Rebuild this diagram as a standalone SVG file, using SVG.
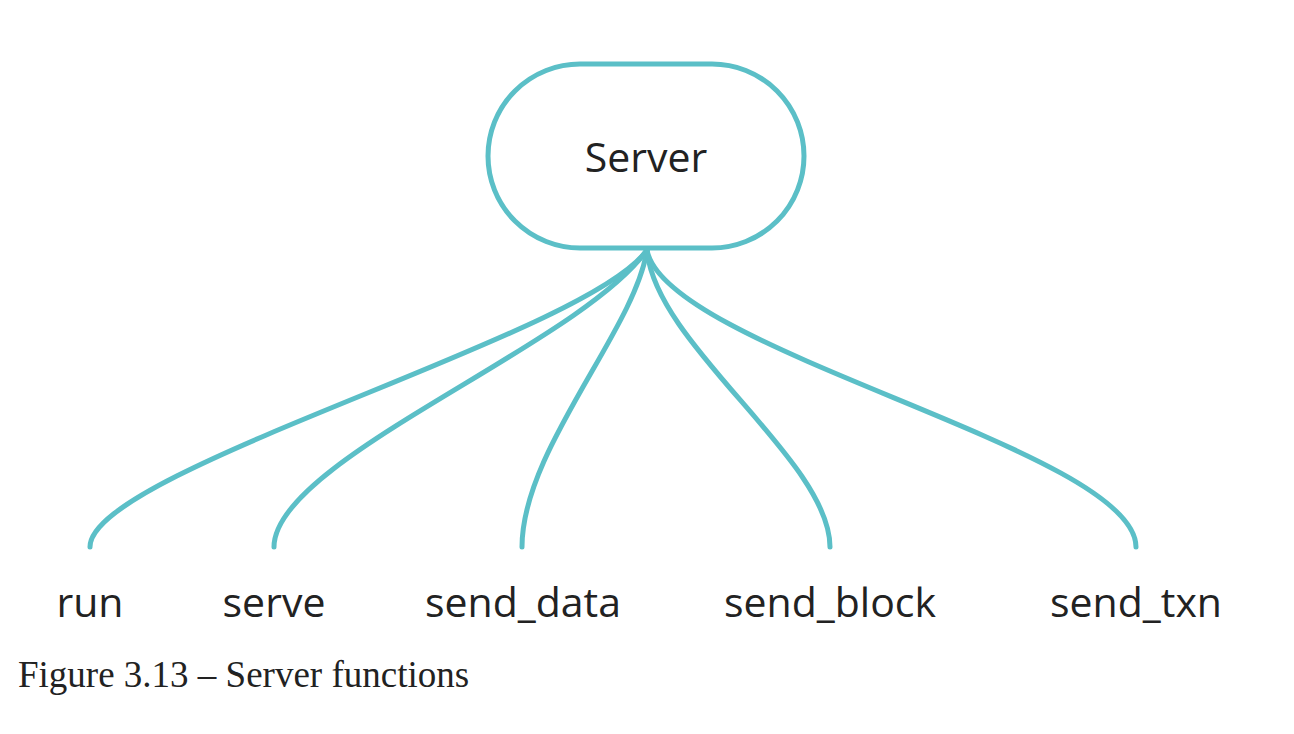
<svg xmlns="http://www.w3.org/2000/svg" width="1294" height="734" viewBox="0 0 1294 734">
<style>
.edge{fill:none;stroke:#5bbfc7;stroke-width:5;stroke-linecap:round}
.node{fill:#fff;stroke:#5bbfc7;stroke-width:5}
.lbl{font-family:"Open Sans","Noto Sans",sans-serif;font-size:41px;fill:#222;text-anchor:middle}
.cap{font-family:"Liberation Serif","DejaVu Serif",serif;font-size:37px;fill:#222}
</style>
<rect width="1294" height="734" fill="#fff"/>
<g id="connectors">
<path class="edge" d="M647,250 C 587,336 90,470 90,547"/>
<path class="edge" d="M647,250 C 580,345 274,460 274,547"/>
<path class="edge" d="M647,250 C 635,330 522,450 522,547"/>
<path class="edge" d="M647,250 C 655,345 830,460 830,547"/>
<path class="edge" d="M647,250 C 665,350 1136,450 1136,547"/>
</g>
<g id="server">
<rect class="node" x="488" y="64" width="316" height="184" rx="92" ry="92"/>
<text class="lbl" x="646" y="172">Server</text>
</g>
<g id="run"><text class="lbl" x="90" y="617">run</text></g>
<g id="serve"><text class="lbl" x="274" y="617">serve</text></g>
<g id="send_data"><text class="lbl" x="523" y="617">send_data</text></g>
<g id="send_block"><text class="lbl" x="830" y="617">send_block</text></g>
<g id="send_txn"><text class="lbl" x="1136" y="617">send_txn</text></g>
<text class="cap" x="18" y="687">Figure 3.13 – Server functions</text>
</svg>
